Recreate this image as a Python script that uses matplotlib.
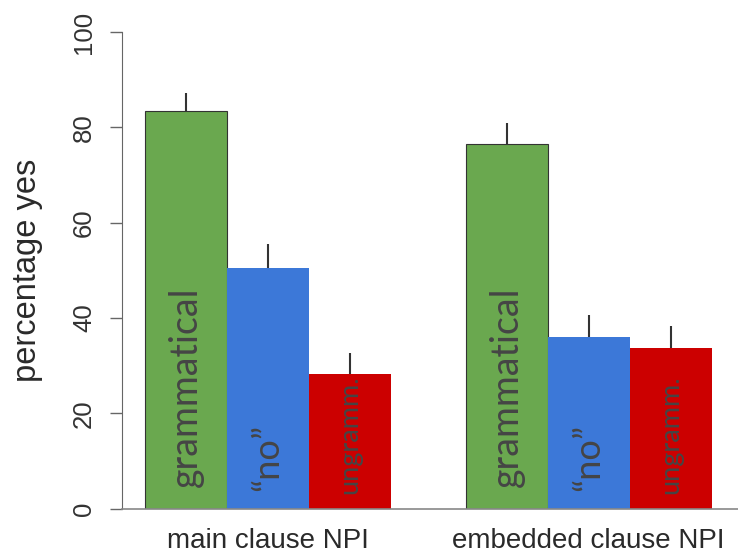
import numpy as np
import matplotlib
matplotlib.use("Agg")
import matplotlib.pyplot as plt

# Data
groups = ["main clause NPI", "embedded clause NPI"]
conditions = ["grammatical", "\u201cno\u201d", "ungramm."]
means = [[83.5, 50.5, 28.2],
         [76.6, 36.0, 33.6]]
upper = [[87.2, 55.6, 32.6],
         [81.0, 40.7, 38.3]]

colors = ["#6aa84f", "#3c78d8", "#cc0000"]
label_sizes = [27, 26, 19.5]
label_y = [4.5, 3.7, 3.0]
group_gap = 0.91

plt.rcParams["font.family"] = ["Liberation Sans", "DejaVu Sans"]

fig = plt.figure(figsize=(7.38, 5.53), dpi=100)
ax = fig.add_axes([122 / 738, 44.5 / 553, 616 / 738, 476.5 / 553])

n = len(conditions)
for g, name in enumerate(groups):
    x = np.arange(n) + g * (n + group_gap)
    heights = np.array(means[g])
    err = np.array(upper[g]) - heights
    ax.bar(x, heights, width=1.0, align="edge", color=colors,
           edgecolor=["#333333", "none", "none"], linewidth=0.8, zorder=2)
    ax.errorbar(x + 0.5, heights, yerr=[np.zeros(n), err], fmt="none",
                ecolor="#333333", elinewidth=1.5, capsize=0, zorder=3)
    for i, cond in enumerate(conditions):
        ax.text(x[i] + 0.5, label_y[i], cond, rotation=90, ha="center",
                va="bottom", fontsize=label_sizes[i], color="#454545",
                family=["Lato", "DejaVu Sans"], zorder=4)
    ax.text(x.mean() + 0.5, -4.0, name, ha="center", va="top",
            fontsize=20, color="#2a2a2a", transform=ax.transData)

ax.set_xlim(-0.28, 7.23)
ax.set_ylim(0, 100)
ax.set_yticks([0, 20, 40, 60, 80, 100])
ax.set_xticks([])
ax.tick_params(axis="y", direction="out", length=8.6, width=1.0,
               color="#666666", labelsize=18.5, labelcolor="#333333",
               pad=10, labelrotation=90)
for lab in ax.get_yticklabels():
    lab.set_va("center")

ax.spines["top"].set_visible(False)
ax.spines["right"].set_visible(False)
ax.spines["left"].set_color("#666666")
ax.spines["left"].set_bounds(0, 100)
ax.spines["bottom"].set_color("#888888")
ax.spines["bottom"].set_linewidth(1.2)

ax.set_ylabel("percentage yes", fontsize=23.5, color="#2a2a2a")
ax.yaxis.set_label_coords(-0.128, 0.5)

fig.savefig("out.png", dpi=100)
